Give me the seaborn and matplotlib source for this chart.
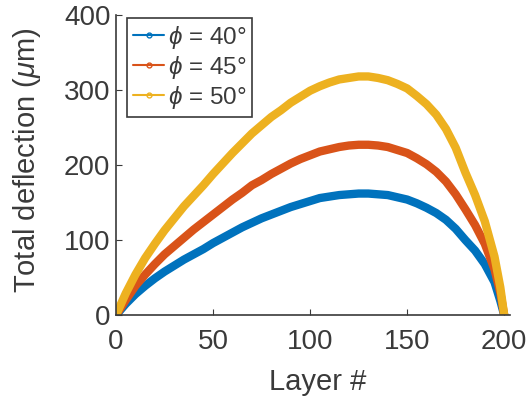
import seaborn as sns
import matplotlib.pyplot as plt
import pandas as pd
from matplotlib.lines import Line2D

# =========================
#   DATA
# =========================

layers = [0, 5, 10, 15, 20, 25, 30, 35, 40, 45,
          50, 55, 60, 65, 70, 75, 80, 85, 90, 95,
          100, 105, 110, 115, 120, 125, 130, 135, 140, 145,
          150, 155, 160, 165, 170, 175, 180, 185, 190, 195,
          198, 200]

defl_40 = [0, 15, 28, 39, 49, 58, 66, 74, 81, 88,
           96, 103, 110, 117, 123, 129, 134, 139, 144, 148,
           152, 156, 158, 160, 161, 162, 162, 161, 160, 157,
           154, 149, 143, 136, 127, 115, 100, 86, 68, 44,
           19, 0]
defl_45 = [0, 20, 39, 54, 68, 81, 92, 103, 114, 124,
           134, 144, 154, 163, 173, 180, 188, 195, 202, 208,
           213, 218, 221, 224, 226, 227, 227, 226, 224, 220,
           216, 209, 201, 191, 178, 161, 141, 120, 95, 61,
           30, 0]
defl_50 = [0, 29, 54, 76, 95, 113, 129, 145, 159, 173,
           188, 202, 216, 229, 242, 253, 264, 273, 283, 291,
           299, 305, 310, 314, 316, 318, 318, 316, 313, 308,
           302, 292, 281, 267, 248, 223, 190, 160, 125, 78,
           37, 0]

labels = [r"$\phi$ = 40°", r"$\phi$ = 45°", r"$\phi$ = 50°"]
colors = ["#0072BD", "#D95319", "#EDB120"]

df = pd.DataFrame({
    "Layer": layers * 3,
    "Deflection": defl_40 + defl_45 + defl_50,
    "Angle": [labels[0]] * len(layers) + [labels[1]] * len(layers) + [labels[2]] * len(layers),
})

# =========================
#   PLOT
# =========================

sns.set_theme(style="ticks")
plt.rcParams["font.family"] = ["Liberation Sans", "DejaVu Sans"]
plt.rcParams["mathtext.fontset"] = "custom"
plt.rcParams["mathtext.it"] = "Liberation Sans:italic"
plt.rcParams["mathtext.rm"] = "Liberation Sans"

text_col = "#3a3a3a"

fig = plt.figure(figsize=(5.31, 4.03), dpi=100)
ax = fig.add_axes([0.2185, 0.218, 0.742, 0.745])

sns.lineplot(data=df, x="Layer", y="Deflection", hue="Angle",
             palette=colors, linewidth=6, ax=ax, legend=False,
             solid_capstyle="round", solid_joinstyle="round")

ax.set_xlim(0, 203)
ax.set_ylim(0, 400)
ax.set_xticks([0, 50, 100, 150, 200])
ax.set_yticks([0, 100, 200, 300, 400])

ax.set_xlabel("Layer #", fontsize=21, color=text_col)
ax.set_ylabel(r"Total deflection ($\mu$m)", fontsize=21, color=text_col)
ax.xaxis.set_label_coords(0.513, -0.175)
ax.yaxis.set_label_coords(-0.185, 0.517)

ax.tick_params(direction="in", length=4, width=0.8, labelsize=20,
               colors=text_col)
ax.tick_params(axis="x", pad=10)
ax.tick_params(axis="y", pad=4)
for side in ["top", "right"]:
    ax.spines[side].set_visible(False)
for side in ["left", "bottom"]:
    ax.spines[side].set_color(text_col)
    ax.spines[side].set_linewidth(1.2)

handles = [Line2D([], [], color=c, lw=1.5, marker="o", markersize=3.5,
                  markerfacecolor="none") for c in colors]
leg = ax.legend(handles, labels, loc="upper left", bbox_to_anchor=(0.027, 0.99),
                fontsize=17.5, frameon=True, fancybox=False, handlelength=1.3,
                handletextpad=0.15, borderpad=0.25, labelspacing=0.12,
                borderaxespad=0, labelcolor=text_col)
leg.get_frame().set_edgecolor(text_col)
leg.get_frame().set_linewidth(1.2)
leg.get_frame().set_alpha(1)

plt.savefig("out.png", dpi=100)
